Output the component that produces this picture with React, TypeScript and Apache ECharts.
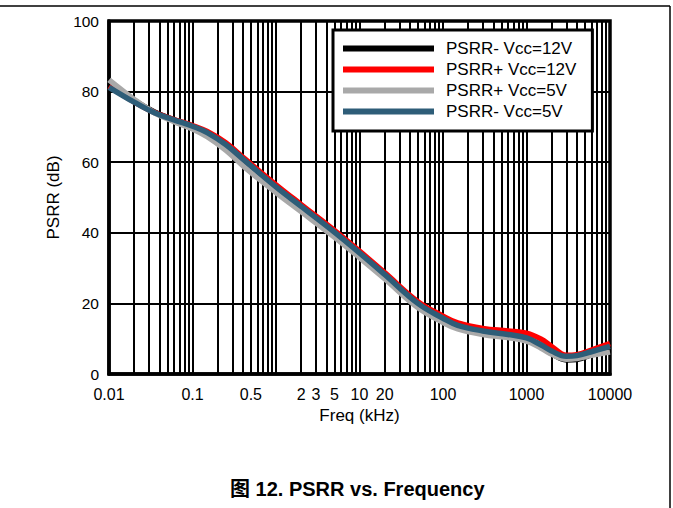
import React, { useEffect, useRef } from "react";
import * as echarts from "echarts";

// Frequency points (kHz)
const freq = [0.01, 0.02, 0.035, 0.06, 0.1, 0.15, 0.25, 0.42, 1, 2, 5, 10, 20, 50, 100, 150, 300, 600, 1000, 1500, 2000, 3000, 4000, 6000, 10000];

// PSRR values (dB)
const psrrMinus12 = [82.5, 77.5, 74.2, 72.0, 70.0, 68.0, 64.4, 59.7, 52.4, 46.8, 39.5, 33.6, 27.6, 19.5, 15.2, 13.3, 11.8, 10.8, 9.7, 7.6, 5.8, 4.0, 4.1, 5.5, 7.2];
const psrrPlus12 = [81.5, 77.1, 74.1, 72.1, 70.4, 68.7, 65.5, 61.0, 53.6, 48.0, 40.7, 34.8, 28.7, 20.5, 16.4, 14.5, 12.9, 12.2, 11.6, 9.9, 7.8, 5.3, 5.5, 6.8, 8.6];
const psrrPlus5 = [83.3, 77.8, 74.0, 71.5, 69.4, 67.2, 63.4, 58.6, 51.4, 46.0, 38.8, 33.0, 27.0, 18.8, 14.6, 12.8, 11.2, 10.3, 9.3, 7.3, 5.6, 4.2, 4.4, 5.3, 6.2];
const psrrMinus5 = [81.2, 77.0, 74.0, 72.0, 70.2, 68.4, 65.0, 60.5, 53.0, 47.5, 40.2, 34.3, 28.2, 20.0, 15.8, 13.8, 12.2, 11.2, 10.2, 8.2, 6.5, 5.0, 5.2, 6.3, 7.8];

const seriesNames = ["PSRR- Vcc=12V", "PSRR+ Vcc=12V", "PSRR+ Vcc=5V", "PSRR- Vcc=5V"];
const seriesColors = ["#000000", "#ff0000", "#a9a9a9", "#2e5d78"];

// Axis tick labels
const decadeLabels: Record<number, string> = { [-2]: "0.01", [-1]: "0.1", 0: "", 1: "10", 2: "100", 3: "1000", 4: "10000" };
const extraTickValues = [0.5, 2, 3, 5, 20];
const extraTickLabels = ["0.5", "2", "3", "5", "20"];
const yTicks = [0, 20, 40, 60, 80, 100];

// Grid line positions: 1..9 x each decade
const gridDecades = [-2, -1, 0, 1, 2, 3];
const gridMultipliers = [1, 2, 3, 4, 5, 6, 7, 8, 9];

const FONT = "'Liberation Sans', Arial, 'Noto Sans CJK SC', sans-serif";

export default function App() {
  const ref = useRef<HTMLDivElement>(null);
  useEffect(() => {
    if (!ref.current) return;
    const chart = echarts.init(ref.current, undefined, { renderer: "svg" });

    const gridValues: number[] = [];
    gridDecades.forEach((d) => gridMultipliers.forEach((m) => gridValues.push(Number((m * Math.pow(10, d)).toPrecision(6)))));
    gridValues.push(10000);

    const markData = gridValues.map((v) => {
      const idx = extraTickValues.indexOf(v);
      return {
        xAxis: v,
        label:
          idx >= 0
            ? { show: true, formatter: extraTickLabels[idx], position: "start", distance: 12, fontSize: 16, color: "#000", fontFamily: FONT }
            : { show: false },
      };
    });

    const dataSets = [psrrMinus12, psrrPlus12, psrrPlus5, psrrMinus5];

    chart.setOption({
      animation: false,
      textStyle: { fontFamily: FONT },
      graphic: [
        { type: "line", shape: { x1: 0, y1: 6, x2: 670, y2: 6 }, style: { stroke: "#000", lineWidth: 1.5 } },
        { type: "line", shape: { x1: 670, y1: 6, x2: 670, y2: 508 }, style: { stroke: "#000", lineWidth: 1.5 } },
      ],
      title: {
        text: "图 12. PSRR vs. Frequency",
        left: 230,
        top: 479,
        padding: 0,
        textStyle: { fontSize: 20, fontWeight: "bold", color: "#000", fontFamily: FONT },
      },
      legend: {
        data: seriesNames.map((n) => ({ name: n, icon: "rect" })),
        orient: "vertical",
        left: 333,
        top: 30,
        padding: [10, 16, 11, 10],
        itemWidth: 91,
        itemHeight: 6,
        itemGap: 4,
        backgroundColor: "#fff",
        borderColor: "#000",
        borderWidth: 3,
        borderRadius: 0,
        textStyle: { fontSize: 17, color: "#000", padding: [0, 0, 0, 7], fontFamily: FONT },
      },
      grid: {
        left: 109,
        right: 63,
        top: 21,
        bottom: 134,
        show: true,
        borderColor: "#000",
        borderWidth: 3.5,
        backgroundColor: "transparent",
      },
      xAxis: {
        type: "log",
        logBase: 10,
        min: 0.01,
        max: 10000,
        name: "Freq (kHz)",
        nameLocation: "middle",
        nameGap: 33,
        nameTextStyle: { fontSize: 17, color: "#000" },
        axisLine: { show: true, lineStyle: { color: "#000", width: 3.5 } },
        axisTick: { show: false },
        splitLine: { show: false },
        axisLabel: {
          interval: 0,
          fontSize: 16,
          color: "#000",
          margin: 12,
          formatter: (v: number) => decadeLabels[Math.round(Math.log10(v))] ?? "",
        },
      },
      yAxis: {
        type: "value",
        min: yTicks[0],
        max: yTicks[yTicks.length - 1],
        interval: 20,
        name: "PSRR (dB)",
        nameLocation: "middle",
        nameGap: 42,
        nameTextStyle: { fontSize: 17, color: "#000" },
        axisLine: { show: true, lineStyle: { color: "#000", width: 3.5 } },
        axisTick: { show: false },
        axisLabel: { fontSize: 15.5, color: "#000", margin: 10 },
        splitLine: { show: true, lineStyle: { color: "#000", width: 2 } },
      },
      series: [
        {
          name: "grid",
          type: "line",
          data: [],
          silent: true,
          markLine: {
            silent: true,
            z: 1,
            symbol: ["none", "none"],
            lineStyle: { color: "#000", width: 2, type: "solid" },
            data: markData,
          },
        },
        ...dataSets.map((vals, i) => ({
          name: seriesNames[i],
          type: "line",
          z: 10,
          smooth: 0.4,
          symbol: "none",
          color: seriesColors[i],
          lineStyle: { color: seriesColors[i], width: 5.5 },
          data: freq.map((f, j) => [f, vals[j]]),
        })),
      ],
    });
    return () => chart.dispose();
  }, []);
  return <div ref={ref} style={{ position: "absolute", left: 0, top: 0, width: 673, height: 508 }} />;
}
